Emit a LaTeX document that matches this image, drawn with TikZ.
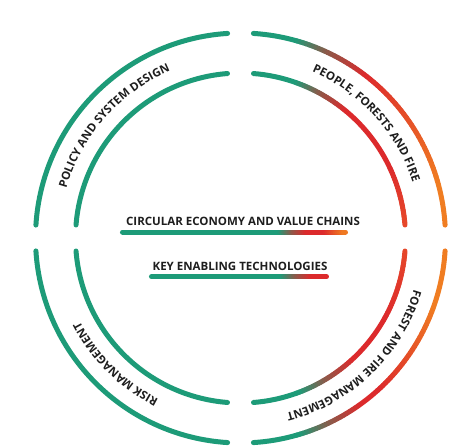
\documentclass[tikz,border=0pt]{standalone}
\usepackage{fontspec}
\newfontfamily\labfont{Open Sans}
\usetikzlibrary{decorations.text}
\definecolor{tgreen}{HTML}{1D9B78}
\definecolor{tbrown}{HTML}{8B5A4A}
\definecolor{tred}{HTML}{DC2A2C}
\definecolor{torange}{HTML}{F07D22}
\definecolor{tredor}{HTML}{E6482A}
\definecolor{ink}{HTML}{1E1E1E}
\tikzset{
  ring/.style={line width=5pt, line cap=round},
  lab/.style={font=\labfont\bfseries\fontsize{11.5}{13}\selectfont, text=ink, inner sep=0pt},
}
% arc with colour gradient: radius, start angle, end angle, colour at start, colour at end, steps
\newcommand\gradarc[6]{%
  \foreach \k in {1,...,#6}{%
    \pgfmathsetmacro\sA{#2+(#3-#2)*(\k-1)/#6}%
    \pgfmathsetmacro\sB{#2+(#3-#2)*\k/#6}%
    \pgfmathtruncatemacro\pc{100*(\k-0.5)/#6}%
    \draw[ring,draw=#5!\pc!#4] (\sA:#1pt) arc[start angle=\sA,end angle=\sB,radius=#1pt];%
  }}
% straight bar with colour gradient: y, x start, x end, colour at start, colour at end, steps
\newcommand\gradbar[6]{%
  \foreach \k in {1,...,#6}{%
    \pgfmathsetmacro\sA{#2+(#3-#2)*(\k-1)/#6}%
    \pgfmathsetmacro\sB{#2+(#3-#2)*\k/#6}%
    \pgfmathtruncatemacro\pc{100*(\k-0.5)/#6}%
    \draw[ring,draw=#5!\pc!#4] (\sA pt,#1pt) -- (\sB pt,#1pt);%
  }}
\newcommand\curvefmt{|\labfont\bfseries\fontsize{11.5}{13}\selectfont\color{ink}|}
\begin{document}
\begin{tikzpicture}[x=1pt,y=1pt]
\useasboundingbox[fill=white] (-240.5,-207) rectangle (217.5,238);
% ---- left half: all green
\draw[ring,draw=tgreen] (176.37:205pt) arc[start angle=176.37,end angle=93.63,radius=205pt];
\draw[ring,draw=tgreen] (175.48:165pt) arc[start angle=175.48,end angle=94.52,radius=165pt];
\draw[ring,draw=tgreen] (-176.37:205pt) arc[start angle=-176.37,end angle=-93.63,radius=205pt];
\draw[ring,draw=tgreen] (-175.48:165pt) arc[start angle=-175.48,end angle=-94.52,radius=165pt];
% ---- top right outer
\draw[ring,draw=tgreen] (86.37:205pt) arc[start angle=86.37,end angle=74,radius=205pt];
\gradarc{205}{74}{64.8}{tgreen}{tbrown}{10}
\gradarc{205}{64.8}{52}{tbrown}{tred}{12}
\gradarc{205}{52}{15}{tred}{torange}{30}
\draw[ring,draw=torange] (15:205pt) arc[start angle=15,end angle=3.63,radius=205pt];
% ---- top right inner
\draw[ring,draw=tgreen] (85.48:165pt) arc[start angle=85.48,end angle=70,radius=165pt];
\gradarc{165}{70}{61}{tgreen}{tbrown}{10}
\gradarc{165}{61}{50}{tbrown}{tred}{12}
\draw[ring,draw=tred] (50:165pt) arc[start angle=50,end angle=25,radius=165pt];
\gradarc{165}{25}{4.52}{tred}{tredor}{20}
% ---- bottom right outer
\draw[ring,draw=torange] (-3.63:205pt) arc[start angle=-3.63,end angle=-20,radius=205pt];
\gradarc{205}{-20}{-48}{torange}{tred}{28}
\draw[ring,draw=tred] (-48:205pt) arc[start angle=-48,end angle=-55,radius=205pt];
\gradarc{205}{-55}{-64.7}{tred}{tbrown}{10}
\gradarc{205}{-64.7}{-74}{tbrown}{tgreen}{10}
\draw[ring,draw=tgreen] (-74:205pt) arc[start angle=-74,end angle=-86.37,radius=205pt];
% ---- bottom right inner
\gradarc{165}{-4.52}{-30}{tredor}{tred}{24}
\draw[ring,draw=tred] (-30:165pt) arc[start angle=-30,end angle=-48,radius=165pt];
\gradarc{165}{-48}{-60}{tred}{tbrown}{12}
\gradarc{165}{-60}{-70}{tbrown}{tgreen}{10}
\draw[ring,draw=tgreen] (-70:165pt) arc[start angle=-70,end angle=-85.48,radius=165pt];
% ---- central bars
\draw[ring,draw=tgreen] (-118pt,6pt) -- (39.5pt,6pt);
\gradbar{6}{39.5}{52.5}{tgreen}{tbrown}{8}
\gradbar{6}{52.5}{67}{tbrown}{tred}{8}
\draw[ring,draw=tred] (67pt,6pt) -- (85pt,6pt);
\gradbar{6}{85}{105}{tred}{torange}{10}
\draw[ring,draw=tgreen] (-89pt,-38.7pt) -- (41.5pt,-38.7pt);
\gradbar{-38.7}{41.5}{56.5}{tgreen}{tbrown}{8}
\gradbar{-38.7}{56.5}{72}{tbrown}{tred}{8}
\draw[ring,draw=tred] (72pt,-38.7pt) -- (86pt,-38.7pt);
% ---- central labels
\node[lab] (ce) at (2.5,16.3) {CIRCULAR ECONOMY AND VALUE CHAINS};
\node[lab] (ket) at (-0.5,-28) {KEY ENABLING TECHNOLOGIES};
% ---- curved labels
\path[decorate,decoration={text along path,text align=center,
  text={\curvefmt POLICY AND SYSTEM DESIGN}}]
  (178.5:181pt) arc[start angle=178.5,end angle=98.5,radius=181pt];
\path[decorate,decoration={text along path,text align=center,
  text={\curvefmt PEOPLE{,} FORESTS AND FIRE}}]
  (82.3:181pt) arc[start angle=82.3,end angle=2.3,radius=181pt];
\path[decorate,decoration={text along path,text align=center,
  text={\curvefmt FOREST AND FIRE MANAGEMENT}}]
  (-6:181pt) arc[start angle=-6,end angle=-86,radius=181pt];
\path[decorate,decoration={text along path,text align=center,
  text={\curvefmt RISK MANAGEMENT}}]
  (-94.7:181pt) arc[start angle=-94.7,end angle=-174.7,radius=181pt];
\end{tikzpicture}
\end{document}
